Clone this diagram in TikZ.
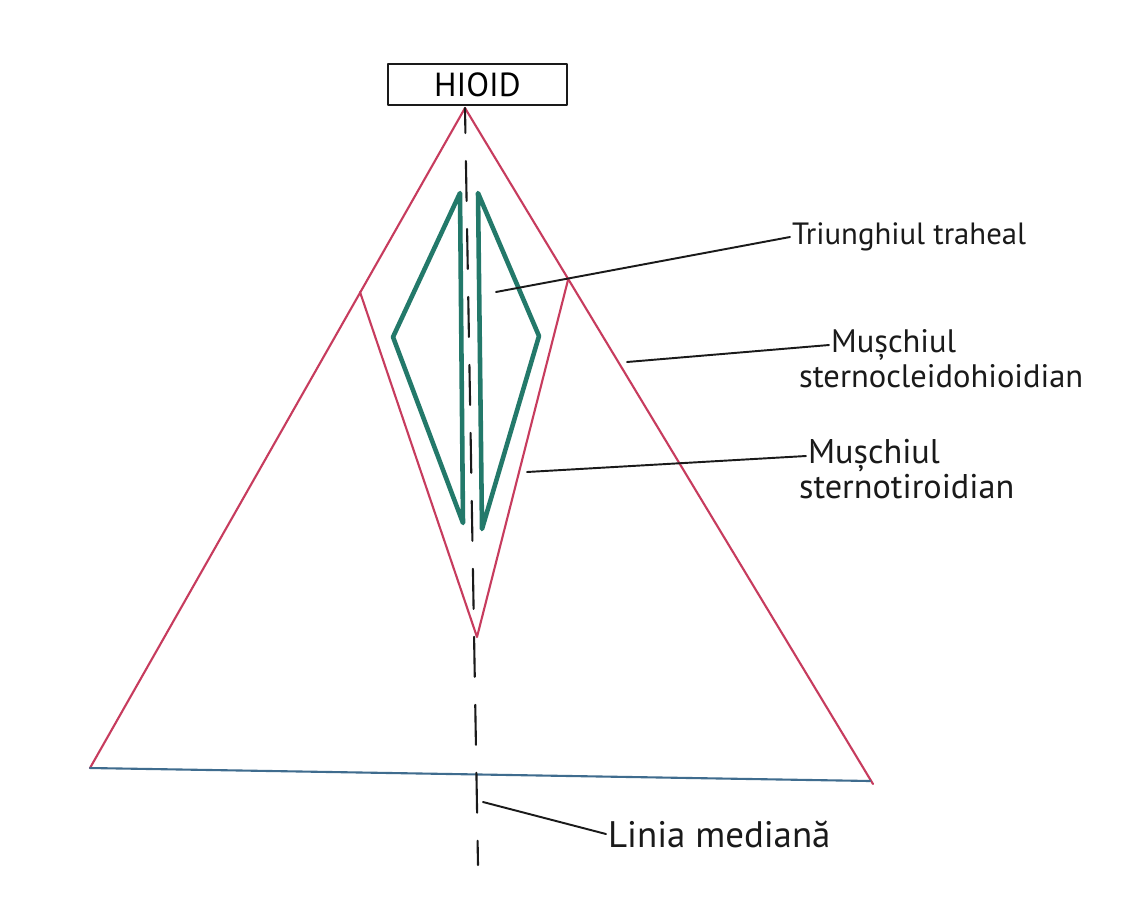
\documentclass[tikz,border=0pt]{standalone}
\usepackage{fontspec}
\setmainfont{PT Sans}
\usetikzlibrary{positioning}
\definecolor{muscle}{HTML}{C73C5E}
\definecolor{trachea}{HTML}{23796A}
\definecolor{clavline}{HTML}{3F6C8E}
\definecolor{ink}{HTML}{1A1A1A}

\begin{document}
\begin{tikzpicture}[x=0.02cm,y=-0.02cm,line join=round,line cap=round,
    lbl/.style={font=\fontsize{#1}{20}\selectfont,text=ink,inner sep=1pt},
    lbl/.default=18.5,
    leader/.style={draw=ink,line width=1.1pt}]
  \useasboundingbox[fill=white] (0,0) rectangle (1133,917);
  % points of the drawing
  \coordinate (apex) at (465,108);
  \coordinate (baseL) at (90,768);
  \coordinate (baseR) at (873,784);
  \coordinate (innerL) at (360,292);
  \coordinate (innerR) at (568,280);
  \coordinate (innerB) at (477,637);
  \coordinate (midEnd) at (478,865);
  \node[draw=ink,line width=1.5pt,minimum width=3.58cm,minimum height=0.82cm,inner sep=0pt,font=\fontsize{19}{22}\selectfont] (hioid) at (477.5,84.5) {HIOID};
  % muscles
  \draw[muscle,line width=1.2pt] (baseL) -- (apex) -- (baseR);
  \draw[clavline,line width=1.2pt] (baseL) -- (870,781);
  \draw[muscle,line width=1.2pt] (innerL) -- (innerB) -- (innerR);
  \draw[trachea,line width=2.6pt] (460,193) -- (393,337) -- (463,523) -- cycle;
  \draw[trachea,line width=2.6pt] (478,193) -- (539,336) -- (482,529) -- cycle;
  \draw[ink,line width=1.2pt,dash pattern=on 0.8cm off 0.56cm,dash phase=0.3cm] (apex) -- (midEnd);
  % labels
  \node[lbl=17.5,anchor=west] (tri) at (790,237) {Triunghiul traheal};
  \node[lbl,anchor=west] (scmA) at (829,345) {Mușchiul};
  \node[lbl,anchor=west] (scmB) at (797,376) {sternocleidohioidian};
  \node[lbl=19.5,anchor=west] (stA) at (806,456) {Mușchiul};
  \node[lbl=19.5,anchor=west] (stB) at (797,487) {sternotiroidian};
  \node[lbl=21,anchor=west] (mid) at (606,834) {Linia mediană};
  \coordinate (triP) at (496,292);
  \coordinate (scmP) at (627,362);
  \coordinate (stP) at (527,472);
  \coordinate (midP) at (483,802);
  \draw[leader] (triP) -- (tri.west);
  \draw[leader] (scmP) -- (scmA.west);
  \draw[leader] (stP) -- (stA.west);
  \draw[leader] (midP) -- (mid.west);
\end{tikzpicture}
\end{document}
